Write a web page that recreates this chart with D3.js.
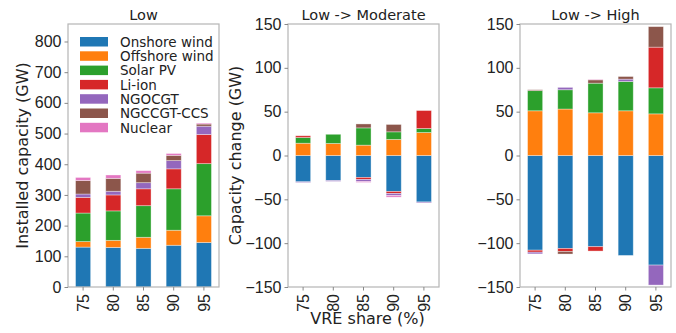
<!DOCTYPE html>
<html lang="en">
<head>
  <meta charset="UTF-8">
  <title>Capacity by VRE share</title>
  <style>
    body { margin: 0; background: #fff; font-family: "DejaVu Sans", sans-serif; }
    .tick text { font-size: 16px; fill: #222; }
    .tick line { stroke: #888; }
    .frame { fill: none; stroke: #b5b5b5; stroke-width: 1.2; }
    .bar { stroke: #fff; stroke-opacity: 0.45; stroke-width: 0.8; }
  </style>
</head>
<body>
  <svg id="chart" width="676" height="333"></svg>
  <script src="https://cdn.jsdelivr.net/npm/d3@7"></script>
  <script>
    const shares = ["75", "80", "85", "90", "95"];
    const techs = ["Onshore wind", "Offshore wind", "Solar PV", "Li-ion", "NGOCGT", "NGCCGT-CCS", "Nuclear"];
    const colors = ["#1f77b4", "#ff7f0e", "#2ca02c", "#d62728", "#9467bd", "#8c564b", "#e377c2"];

    // installed capacity, Low scenario (GW)
    const lowOnshore  = [130, 129, 126, 136, 145];
    const lowOffshore = [18, 23, 36, 49, 87];
    const lowSolar    = [93, 96, 103, 135, 170];
    const lowLiion    = [51, 52, 55, 65, 95];
    const lowOCGT     = [11, 12, 20, 27, 27];
    const lowCCGT     = [44, 42, 31, 17, 7];
    const lowNuclear  = [10, 11, 8, 6, 3];

    // change Low -> Moderate (GW)
    const modOnshore  = [-30, -28.5, -25, -41, -53];
    const modOffshore = [14, 13.7, 11.8, 18.3, 26.2];
    const modSolar    = [6.5, 10.5, 19.7, 8.7, 4.6];
    const modLiion    = [2, 0, -2.4, -2.3, 20.5];
    const modOCGT     = [-0.8, -1, -2.3, -2.3, -1];
    const modCCGT     = [0, 0, 4.5, 8.4, 0];
    const modNuclear  = [0, 0, -1, -1.9, 0];

    // change Low -> High (GW)
    const highOnshore  = [-108, -106, -104, -114, -125];
    const highOffshore = [51, 53, 48.7, 51, 47.5];
    const highSolar    = [23, 22, 33.8, 33.4, 29.7];
    const highLiion    = [-2.3, -3.4, -5, 0, 46.4];
    const highOCGT     = [-1.9, 2.7, 0, 2.7, -22.8];
    const highCCGT     = [1, -3, 3.8, 3, 23.4];
    const highNuclear  = [0, 0, 0.5, 0, 0];

    const lowTicks = d3.range(0, 801, 100);
    const chgTicks = d3.range(-150, 151, 50);

    function rows(series) {
      return shares.map((s, i) => {
        const r = { share: s };
        techs.forEach((t, k) => r[t] = series[k][i]);
        return r;
      });
    }

    const panels = [
      { title: "Low", x0: 68, domain: [0, 857], ticks: lowTicks, ylabel: "Installed capacity (GW)", ylabelX: 22,
        data: rows([lowOnshore, lowOffshore, lowSolar, lowLiion, lowOCGT, lowCCGT, lowNuclear]), legend: true },
      { title: "Low -> Moderate", x0: 288, domain: [-150, 150], ticks: chgTicks, ylabel: "Capacity change (GW)", ylabelX: 235,
        data: rows([modOnshore, modOffshore, modSolar, modLiion, modOCGT, modCCGT, modNuclear]), xlabel: "VRE share (%)" },
      { title: "Low -> High", x0: 520, domain: [-150, 150], ticks: chgTicks,
        data: rows([highOnshore, highOffshore, highSolar, highLiion, highOCGT, highCCGT, highNuclear]) }
    ];

    const W = 151, yTop = 24, yBottom = 287;
    const svg = d3.select("#chart");
    const stack = d3.stack().keys(techs).offset(d3.stackOffsetDiverging);

    panels.forEach(p => {
      const g = svg.append("g").attr("transform", `translate(${p.x0},0)`);
      const x = d3.scaleBand().domain(shares).range([0, W]).paddingInner(0.5).paddingOuter(0.25);
      const y = d3.scaleLinear().domain(p.domain).range([yBottom, yTop]);

      const layers = stack(p.data);
      g.selectAll("g.layer")
        .data(layers)
        .join("g")
        .attr("class", "layer")
        .attr("fill", (d, i) => colors[i])
        .selectAll("rect")
        .data(d => d)
        .join("rect")
        .attr("class", "bar")
        .attr("x", d => x(d.data.share))
        .attr("width", x.bandwidth())
        .attr("y", d => y(Math.max(d[0], d[1])))
        .attr("height", d => Math.abs(y(d[0]) - y(d[1])));

      g.append("rect").attr("class", "frame")
        .attr("x", 0).attr("y", yTop).attr("width", W).attr("height", yBottom - yTop);

      const ya = g.append("g").call(d3.axisLeft(y).tickValues(p.ticks).tickSize(3.5).tickPadding(3));
      ya.select(".domain").remove();
      ya.selectAll("text").text(d => d < 0 ? "\u2212" + Math.abs(d) : d);

      const xa = g.append("g").attr("transform", `translate(0,${yBottom})`)
        .call(d3.axisBottom(x).tickSize(3.5).tickPadding(3));
      xa.select(".domain").remove();
      xa.selectAll("text")
        .attr("transform", "rotate(-90)")
        .attr("text-anchor", "end")
        .attr("x", -7).attr("y", 0).attr("dy", "0.35em");

      g.append("text")
        .attr("x", W / 2).attr("y", 20)
        .attr("text-anchor", "middle")
        .style("font-size", "14.5px").style("fill", "#222")
        .text(p.title);

      if (p.ylabel) {
        svg.append("text")
          .attr("transform", `translate(${p.ylabelX},${(yTop + yBottom) / 2}) rotate(-90)`)
          .attr("text-anchor", "middle")
          .attr("dy", "0.35em")
          .style("font-size", "16px").style("fill", "#222")
          .text(p.ylabel);
      }
      if (p.xlabel) {
        g.append("text")
          .attr("x", W / 2 + 4).attr("y", 324)
          .attr("text-anchor", "middle")
          .style("font-size", "16px").style("fill", "#222")
          .text(p.xlabel);
      }

      if (p.legend) {
        const lg = g.append("g").attr("transform", "translate(12,37)");
        const item = lg.selectAll("g").data(techs).join("g")
          .attr("transform", (d, i) => `translate(0,${i * 14.3})`);
        item.append("rect").attr("width", 28).attr("height", 9.5).attr("y", 0)
          .attr("fill", (d, i) => colors[i]);
        item.append("text").attr("x", 40).attr("y", 5).attr("dy", "0.35em")
          .style("font-size", "13.5px").style("fill", "#222")
          .text(d => d);
      }
    });
  </script>
</body>
</html>
